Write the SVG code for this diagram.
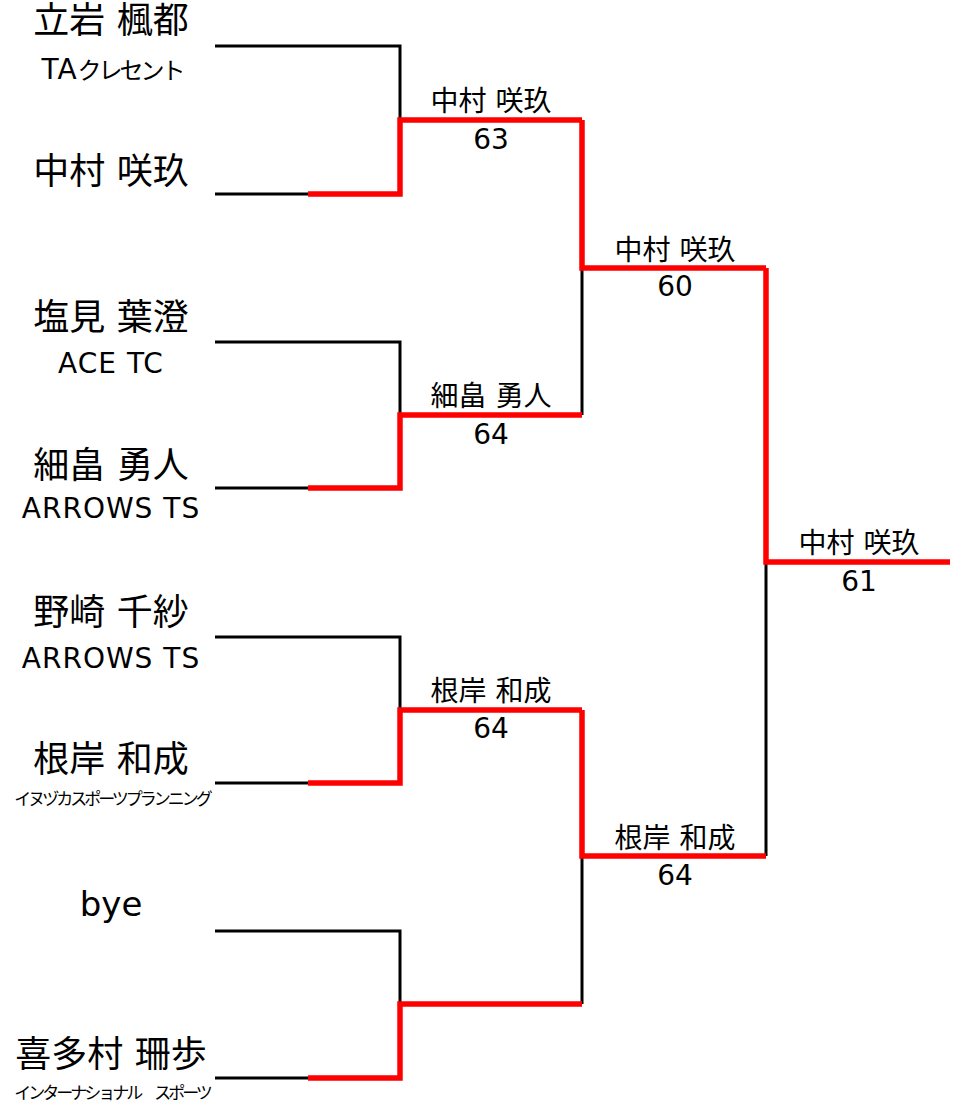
<svg xmlns="http://www.w3.org/2000/svg" width="955" height="1104" viewBox="0 0 955 1104">
<style>
text { fill: #000; font-family: "DejaVu Sans", "Noto Sans CJK JP", sans-serif; text-anchor: middle; }
.name { font-size: 36px; }
.bye { font-size: 34px; }
.team { font-size: 28px; letter-spacing: 1px; }
.kana { font-size: 24px; letter-spacing: -3px; }
.small { font-size: 17px; letter-spacing: -3px; }
.win { font-size: 28px; }
.score { font-size: 28px; }
.blk { fill: none; stroke: #000; stroke-width: 3; }
.red { fill: none; stroke: #ff0000; stroke-width: 5.5; stroke-linejoin: miter; }
</style>
<rect width="955" height="1104" fill="#fff"/>
<g id="connectors">
  <path class="blk" d="M215,46 H400 V120"/>
  <path class="blk" d="M215,194 H308"/>
  <path class="blk" d="M215,342 H400 V415"/>
  <path class="blk" d="M215,488 H308"/>
  <path class="blk" d="M215,637 H400 V710"/>
  <path class="blk" d="M215,783 H308"/>
  <path class="blk" d="M215,931 H400 V1004"/>
  <path class="blk" d="M215,1078 H308"/>
  <path class="blk" d="M582,268 V415"/>
  <path class="blk" d="M582,856 V1004"/>
  <path class="blk" d="M766,562 V856"/>
  <path class="red" d="M308,194 H400 V120 H582"/>
  <path class="red" d="M308,488 H400 V415 H582"/>
  <path class="red" d="M308,783 H400 V710 H582"/>
  <path class="red" d="M308,1078 H400 V1004 H582"/>
  <path class="red" d="M582,120 V268 H766"/>
  <path class="red" d="M582,710 V856 H766"/>
  <path class="red" d="M766,268 V562 H950"/>
</g>
<g id="p1"><text class="name" x="111" y="32.5">立岩 楓都</text><text x="112" y="79"><tspan class="team">TA</tspan><tspan class="kana">クレセント</tspan></text></g>
<g id="p2"><text class="name" x="111" y="184">中村 咲玖</text></g>
<g id="p3"><text class="name" x="111" y="329.5">塩見 葉澄</text><text class="team" x="111" y="373">ACE TC</text></g>
<g id="p4"><text class="name" x="111" y="478">細畠 勇人</text><text class="team" x="111" y="518">ARROWS TS</text></g>
<g id="p5"><text class="name" x="111" y="624.5">野崎 千紗</text><text class="team" x="111" y="668">ARROWS TS</text></g>
<g id="p6"><text class="name" x="111" y="772">根岸 和成</text><text class="small" x="112" y="805">イヌヅカスポーツプランニング</text></g>
<g id="p7"><text class="bye" x="111" y="916">bye</text></g>
<g id="p8"><text class="name" x="111" y="1067">喜多村 珊歩</text><text class="small" x="112" y="1099">インターナショナル　スポーツ</text></g>
<g id="m1"><text class="win" x="491" y="111">中村 咲玖</text><text class="score" x="491" y="149">63</text></g>
<g id="m2"><text class="win" x="491" y="406">細畠 勇人</text><text class="score" x="491" y="444">64</text></g>
<g id="m3"><text class="win" x="491" y="701">根岸 和成</text><text class="score" x="491" y="738">64</text></g>
<g id="sf1"><text class="win" x="675" y="260">中村 咲玖</text><text class="score" x="675" y="296">60</text></g>
<g id="sf2"><text class="win" x="675" y="848">根岸 和成</text><text class="score" x="675" y="885">64</text></g>
<g id="final"><text class="win" x="859" y="553">中村 咲玖</text><text class="score" x="859" y="591">61</text></g>
</svg>
